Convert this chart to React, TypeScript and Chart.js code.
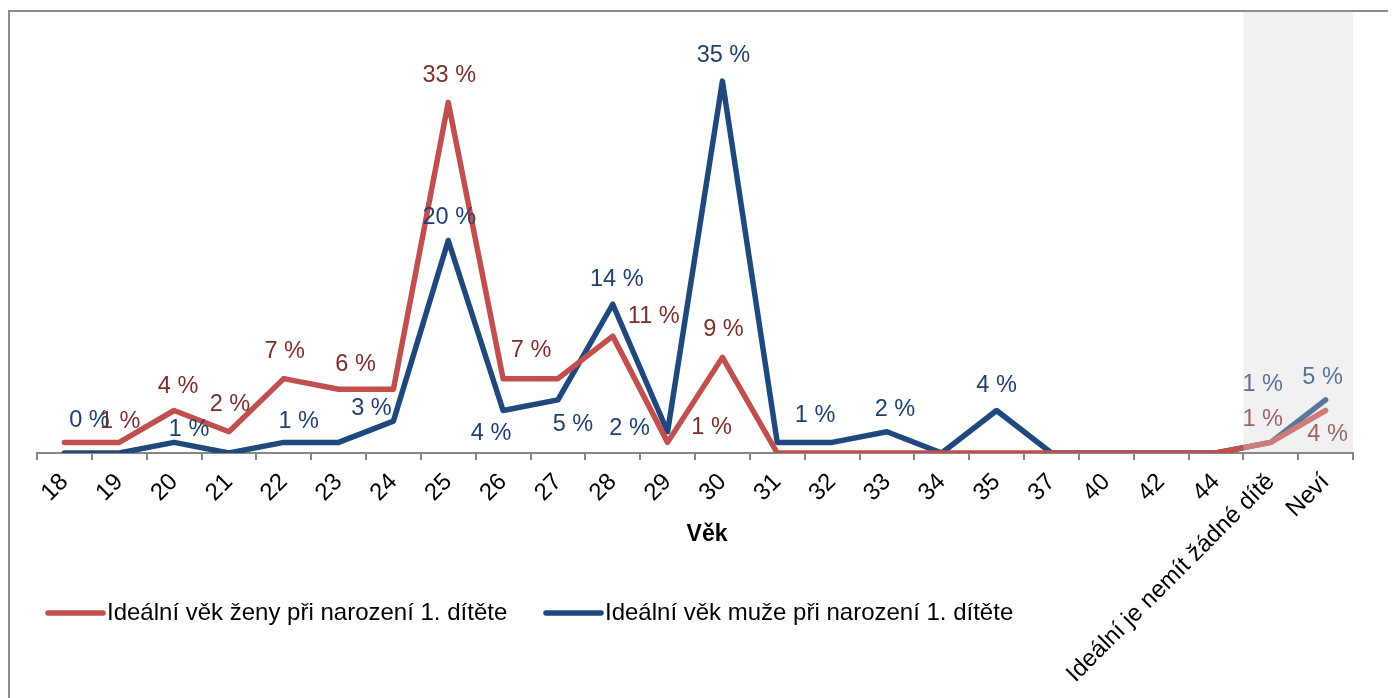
import React, { useEffect, useRef } from "react";
import { Chart, registerables } from "chart.js";

Chart.register(...registerables);

const categories = [
  "18", "19", "20", "21", "22", "23", "24", "25", "26", "27", "28", "29",
  "30", "31", "32", "33", "34", "35", "37", "40", "42", "44",
  "Ideální je nemít žádné dítě", "Neví",
];

const womenValues = [1, 1, 4, 2, 7, 6, 6, 33, 7, 7, 11, 1, 9, 0, 0, 0, 0, 0, 0, 0, 0, 0, 1, 4];
const menValues = [0, 0, 1, 0, 1, 1, 3, 20, 4, 5, 14, 2, 35, 1, 1, 2, 0, 4, 0, 0, 0, 0, 1, 5];

const womenLabel = "Ideální věk ženy při narození 1. dítěte";
const menLabel = "Ideální věk muže při narození 1. dítěte";
const axisTitle = "Věk";

// label offsets (dx, dy) relative to each point; null = no label
const womenLabelOffsets: ([number, number] | null)[] = [
  null, [1, -21], [4, -24], [1, -27], [1, -27], [17, -25], null, [1, -27],
  [28, -28], null, [41, -20], [44, -15], [1, -28], null, null, null, null,
  null, null, null, null, null, [-8, -23], [2, 24],
];
const menLabelOffsets: ([number, number] | null)[] = [
  [25, -32], null, [15, -13], null, [15, -21], null, [-22, -13], [1, -23],
  [-12, 23], [15, 25], [4, -25], [-38, -3], [1, -26], null, [-17, -27], [8, -22],
  null, [0, -25], null, null, null, null, [-8, -58], [-3, -22],
];

const RED = "#C0504D";
const BLUE = "#1F497D";
const RED_TEXT = "#7A2E2C";
const BLUE_TEXT = "#1F3F6E";
const FONT = "'Liberation Sans', Arial, sans-serif";

const shadeStart = 22; // index of first shaded category

const customPlugin = {
  id: "customDecor",
  beforeDatasetsDraw(chart: any) {
    const { ctx, chartArea } = chart;
    const x = chart.scales.x;
    const bx = (x.getPixelForValue(shadeStart - 1) + x.getPixelForValue(shadeStart)) / 2;
    ctx.save();
    ctx.fillStyle = "#F2F2F2";
    ctx.fillRect(bx, 4, chartArea.right - bx, chartArea.bottom - 5);
    ctx.restore();
  },
  afterDatasetsDraw(chart: any) {
    const { ctx, chartArea } = chart;
    const x = chart.scales.x;
    const y = chart.scales.y;
    ctx.save();
    ctx.font = `23.5px ${FONT}`;
    ctx.textAlign = "center";
    ctx.textBaseline = "middle";
    const drawLabels = (vals: number[], offs: ([number, number] | null)[], color: string) => {
      ctx.fillStyle = color;
      vals.forEach((v, i) => {
        const o = offs[i];
        if (!o) return;
        const px = x.getPixelForValue(i) + o[0];
        const py = y.getPixelForValue(v) + o[1];
        ctx.fillText(`${v} %`, px, py);
      });
    };
    drawLabels(womenValues, womenLabelOffsets, RED_TEXT);
    drawLabels(menValues, menLabelOffsets, BLUE_TEXT);
    // translucent overlay of shaded region
    const bx = (x.getPixelForValue(shadeStart - 1) + x.getPixelForValue(shadeStart)) / 2;
    ctx.fillStyle = "rgba(242,242,242,0.28)";
    ctx.fillRect(bx, 4, chartArea.right - bx, chartArea.bottom - 5);
    ctx.restore();
  },
  afterDraw(chart: any) {
    const { ctx, chartArea, width, height } = chart;
    ctx.save();
    // frame
    ctx.fillStyle = "#8C8C8C";
    ctx.fillRect(0, 2, width, 2);
    ctx.fillRect(0, 2, 2, height);
    // axis title
    ctx.fillStyle = "#000";
    ctx.font = `bold 23px ${FONT}`;
    ctx.textAlign = "center";
    ctx.textBaseline = "middle";
    ctx.fillText(axisTitle, (chartArea.left + chartArea.right) / 2 + 12, chartArea.bottom + 82);
    // legend
    const ly = chartArea.bottom + 160;
    const items = [
      { label: womenLabel, color: RED, x: chartArea.left + 11 },
      { label: menLabel, color: BLUE, x: chartArea.left + 509 },
    ];
    ctx.font = `24px ${FONT}`;
    ctx.textAlign = "left";
    items.forEach((it) => {
      ctx.strokeStyle = it.color;
      ctx.lineWidth = 5.5;
      ctx.lineCap = "round";
      ctx.beginPath();
      ctx.moveTo(it.x, ly);
      ctx.lineTo(it.x + 55, ly);
      ctx.stroke();
      ctx.fillStyle = "#000";
      ctx.fillText(it.label, it.x + 59, ly);
    });
    ctx.restore();
  },
};

export default function App() {
  const canvasRef = useRef<HTMLCanvasElement>(null);

  useEffect(() => {
    if (!canvasRef.current) return;
    const chart = new Chart(canvasRef.current, {
      type: "line",
      data: {
        labels: categories,
        datasets: [
          {
            label: womenLabel,
            data: womenValues,
            borderColor: RED,
            backgroundColor: RED,
            borderWidth: 5.5,
            pointRadius: 0,
            borderCapStyle: "round",
            borderJoinStyle: "round",
            tension: 0,
          },
          {
            label: menLabel,
            data: menValues,
            borderColor: BLUE,
            backgroundColor: BLUE,
            borderWidth: 5.5,
            pointRadius: 0,
            borderCapStyle: "round",
            borderJoinStyle: "round",
            tension: 0,
          },
        ],
      },
      options: {
        animation: false,
        responsive: true,
        maintainAspectRatio: false,
        layout: { padding: { left: 29, right: 43, top: 20, bottom: 0 } },
        plugins: {
          legend: { display: false },
          tooltip: { enabled: false },
        },
        scales: {
          x: {
            offset: true,
            afterFit: (scale: any) => {
              scale.height = 245;
            },
            grid: {
              display: true,
              offset: true,
              drawOnChartArea: false,
              drawTicks: true,
              tickLength: 7,
              color: "#868686",
              lineWidth: 2,
            },
            border: { display: true, color: "#868686", width: 2 },
            ticks: {
              autoSkip: false,
              minRotation: 45,
              maxRotation: 45,
              color: "#000",
              font: { family: FONT, size: 24 },
              padding: 8,
            },
          },
          y: {
            display: false,
            min: 0,
            max: 40,
          },
        },
      },
      plugins: [customPlugin],
    });
    return () => chart.destroy();
  }, []);

  return (
    <div style={{ position: "relative", width: "1388px", height: "690px" }}>
      <canvas ref={canvasRef} />
    </div>
  );
}
